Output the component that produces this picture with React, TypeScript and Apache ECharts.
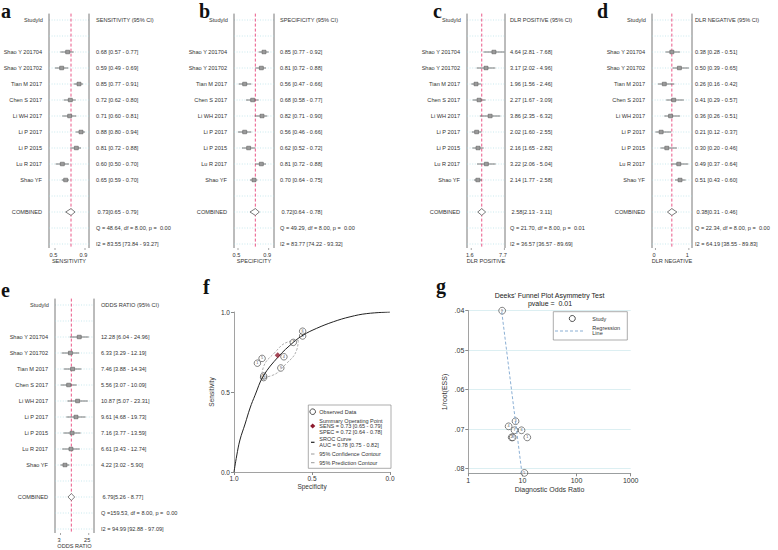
import { useEffect, useRef } from "react";
import * as echarts from "echarts";

const studies = ["Shao Y 201704", "Shao Y 201702", "Tian M 2017", "Chen S 2017", "Li WH 2017", "Li P 2017", "Li P 2015", "Lu R 2017", "Shao YF"];
const studyNumbers = ["1", "2", "3", "4", "5", "6", "7", "8", "9"];

// a: sensitivity
const sensEst = [0.68, 0.59, 0.85, 0.72, 0.71, 0.88, 0.81, 0.60, 0.65];
const sensLo = [0.57, 0.49, 0.77, 0.62, 0.60, 0.80, 0.72, 0.50, 0.59];
const sensHi = [0.77, 0.69, 0.91, 0.80, 0.81, 0.94, 0.88, 0.70, 0.70];
const sensPooled = [0.73, 0.65, 0.79];
const sensStats = ["Q = 48.64, df = 8.00, p =  0.00", "I2 = 83.55 [73.84 - 93.27]"];

// b: specificity
const specEst = [0.85, 0.81, 0.56, 0.68, 0.82, 0.56, 0.62, 0.81, 0.70];
const specLo = [0.77, 0.72, 0.47, 0.58, 0.71, 0.46, 0.52, 0.72, 0.64];
const specHi = [0.92, 0.88, 0.66, 0.77, 0.90, 0.66, 0.72, 0.88, 0.75];
const specPooled = [0.72, 0.64, 0.78];
const specStats = ["Q = 49.29, df = 8.00, p =  0.00", "I2 = 83.77 [74.22 - 93.32]"];

// c: DLR positive
const dlrPosEst = [4.64, 3.17, 1.96, 2.27, 3.86, 2.02, 2.16, 3.22, 2.14];
const dlrPosLo = [2.81, 2.02, 1.56, 1.67, 2.35, 1.60, 1.65, 2.06, 1.77];
const dlrPosHi = [7.68, 4.96, 2.46, 3.09, 6.32, 2.55, 2.82, 5.04, 2.58];
const dlrPosPooled = [2.58, 2.13, 3.11];
const dlrPosStats = ["Q = 21.70, df = 8.00, p =  0.01", "I2 = 36.57 [36.57 - 89.69]"];

// d: DLR negative
const dlrNegEst = [0.38, 0.50, 0.26, 0.41, 0.36, 0.21, 0.30, 0.49, 0.51];
const dlrNegLo = [0.28, 0.39, 0.16, 0.29, 0.26, 0.12, 0.20, 0.37, 0.43];
const dlrNegHi = [0.51, 0.65, 0.42, 0.57, 0.51, 0.37, 0.46, 0.64, 0.60];
const dlrNegPooled = [0.38, 0.31, 0.46];
const dlrNegStats = ["Q = 22.34, df = 8.00, p =  0.00", "I2 = 64.19 [38.55 - 89.83]"];

// e: diagnostic odds ratio
const orEst = [12.28, 6.33, 7.46, 5.56, 10.87, 9.61, 7.16, 6.61, 4.22];
const orLo = [6.04, 3.29, 3.88, 3.07, 5.07, 4.68, 3.77, 3.43, 3.02];
const orHi = [24.96, 12.19, 14.34, 10.09, 23.31, 19.73, 13.59, 12.74, 5.90];
const orPooled = [6.79, 5.26, 8.77];
const orStats = ["Q =159.53, df = 8.00, p =  0.00", "I2 = 94.99 [92.88 - 97.09]"];

// f: SROC
const srocSpec = [1.0, 0.983, 0.962, 0.929, 0.897, 0.865, 0.812, 0.716, 0.62, 0.556, 0.47, 0.363, 0.256, 0.149, 0.0];
const srocSens = [0.0, 0.10, 0.20, 0.30, 0.40, 0.48, 0.60, 0.72, 0.81, 0.856, 0.898, 0.939, 0.97, 0.99, 1.0];
const contourSpec = [0.588, 0.597, 0.669, 0.762, 0.822, 0.813, 0.742, 0.649, 0.588];
const contourSens = [0.824, 0.766, 0.673, 0.601, 0.592, 0.651, 0.743, 0.815, 0.824];
const summarySpec = 0.72;
const summarySens = 0.73;
const srocYTicks = ["0.0", "0.5", "1.0"];

// g: Deeks' funnel plot
const deeksInvRootEss = [0.0721, 0.0721, 0.068, 0.0693, 0.0811, 0.0703, 0.0703, 0.0721, 0.04];
const regLineDor = [4.15, 9.8];
const regLineInvRootEss = [0.0403, 0.0812];

const SANS = '"Liberation Sans", Arial, Helvetica, sans-serif';
const SERIF = '"Liberation Serif", "Times New Roman", serif';
const ROWS = Array.from({ length: 15 }, (_, i) => i);

type Panel = {
  left: number; top: number; width: number;
  xType: string; xMin: number; xMax: number; textX: number;
  header: string; axisName: string; digits: number;
  est: number[]; lo: number[]; hi: number[]; pooled: number[]; stats: string[];
};

const panels: Panel[] = [
  { left: 49, top: 13.6, width: 40, xType: "value", xMin: 0.4, xMax: 1.0, textX: 96, header: "SENSITIVITY (95% CI)", axisName: "SENSITIVITY", digits: 1, est: sensEst, lo: sensLo, hi: sensHi, pooled: sensPooled, stats: sensStats },
  { left: 234, top: 13.6, width: 40, xType: "value", xMin: 0.4, xMax: 1.0, textX: 280, header: "SPECIFICITY (95% CI)", axisName: "SPECIFICITY", digits: 1, est: specEst, lo: specLo, hi: specHi, pooled: specPooled, stats: specStats },
  { left: 467, top: 13.6, width: 38, xType: "log", xMin: 1.27, xMax: 7.9, textX: 510, header: "DLR POSITIVE (95% CI)", axisName: "DLR POSITIVE", digits: 1, est: dlrPosEst, lo: dlrPosLo, hi: dlrPosHi, pooled: dlrPosPooled, stats: dlrPosStats },
  { left: 652, top: 13.6, width: 40, xType: "value", xMin: 0.065, xMax: 0.7, textX: 695, header: "DLR NEGATIVE (95% CI)", axisName: "DLR NEGATIVE", digits: 0, est: dlrNegEst, lo: dlrNegLo, hi: dlrNegHi, pooled: dlrNegPooled, stats: dlrNegStats },
  { left: 55, top: 298.6, width: 39, xType: "log", xMin: 2.0, xMax: 37, textX: 101, header: "ODDS RATIO (95% CI)", axisName: "ODDS RATIO", digits: 0, est: orEst, lo: orLo, hi: orHi, pooled: orPooled, stats: orStats },
];

const FONT_F = `5.6px ${SANS}`;

function txt(text: string, x: number, y: number, align: string, font = FONT_F, fill = "#333") {
  return {
    type: "text",
    style: { text, x, y, font, fill, textAlign: align, align, textVerticalAlign: "middle", verticalAlign: "middle" },
  };
}

const f2 = (v: number) => v.toFixed(2);

function makeForestRender(p: Panel) {
  return (params: any, api: any) => {
    const row = params.dataIndex;
    const cs = params.coordSys;
    const left = cs.x, right = cs.x + cs.width, top = cs.y, bottom = cs.y + cs.height;
    const y = api.coord([p.pooled[0], row])[1];
    const ch: any[] = [];
    ch.push({ type: "line", shape: { x1: left, y1: y, x2: right, y2: y }, style: { stroke: "#a6dae2", lineWidth: 0.6, lineDash: [1, 1.6] } });
    if (row === 0) {
      ch.push({ type: "line", shape: { x1: left, y1: top, x2: left, y2: bottom }, style: { stroke: "#6a6a6a", lineWidth: 0.9 } });
      ch.push({ type: "line", shape: { x1: right, y1: top, x2: right, y2: bottom }, style: { stroke: "#6a6a6a", lineWidth: 0.9 } });
      const xr = api.coord([p.pooled[0], row])[0];
      ch.push({ type: "line", z2: 5, shape: { x1: xr, y1: top, x2: xr, y2: bottom }, style: { stroke: "#e8457a", lineWidth: 0.9, lineDash: [3, 2] } });
      ch.push(txt("StudyId", left - 6, y, "right"));
      ch.push(txt(p.header, p.textX, y, "left"));
      const tv = [Math.min(...p.lo), Math.max(...p.hi)];
      tv.forEach((v) => {
        const x = api.coord([v, row])[0];
        ch.push({ type: "line", shape: { x1: x, y1: bottom, x2: x, y2: bottom + 2 }, style: { stroke: "#6a6a6a", lineWidth: 0.6 } });
        const label = p.digits === 0 ? String(Math.round(v)) : v.toFixed(p.digits);
        ch.push(txt(label, x - 1.5, bottom + 7, "center"));
      });
      ch.push(txt(p.axisName, (left + right) / 2, bottom + 13, "center"));
    }
    const si = row - 2;
    if (si >= 0 && si < studies.length) {
      const xl = api.coord([p.lo[si], row])[0];
      const xh = api.coord([p.hi[si], row])[0];
      const xe = api.coord([p.est[si], row])[0];
      ch.push({ type: "line", z2: 6, shape: { x1: xl, y1: y, x2: xh, y2: y }, style: { stroke: "#555", lineWidth: 0.8 } });
      ch.push({ type: "rect", z2: 7, shape: { x: xe - 2, y: y - 1.8, width: 4, height: 3.6 }, style: { fill: "#9a9a9a", stroke: "#555", lineWidth: 0.5 } });
      ch.push(txt(studies[si], left - 7, y, "right"));
      ch.push(txt(`${f2(p.est[si])} [${f2(p.lo[si])} - ${f2(p.hi[si])}]`, p.textX, y, "left"));
    }
    if (row === 12) {
      const xl = api.coord([p.pooled[1], row])[0];
      const xh = api.coord([p.pooled[2], row])[0];
      const xe = api.coord([p.pooled[0], row])[0];
      ch.push({ type: "polygon", z2: 7, shape: { points: [[xl, y], [xe, y - 3.4], [xh, y], [xe, y + 3.4]] }, style: { fill: "#fff", stroke: "#444", lineWidth: 0.7 } });
      ch.push(txt("COMBINED", left - 7, y, "right"));
      ch.push(txt(`${f2(p.pooled[0])}[${f2(p.pooled[1])} - ${f2(p.pooled[2])}]`, p.textX + 1.5, y, "left"));
    }
    if (row === 13) ch.push(txt(p.stats[0], p.textX, y, "left"));
    if (row === 14) ch.push(txt(p.stats[1], p.textX, y, "left"));
    return { type: "group", children: ch };
  };
}

function letter(ch: string, x: number, cy: number) {
  return {
    type: "text", x, y: cy,
    style: { text: ch, font: `bold 20px ${SERIF}`, fill: "#111", textAlign: "left", align: "left", textVerticalAlign: "middle", verticalAlign: "middle" },
  };
}

function gtext(text: string, x: number, y: number, size: number, align = "left", fill = "#333") {
  return {
    type: "text", x, y,
    style: { text, font: `${size}px ${SANS}`, fill, textAlign: align, align, textVerticalAlign: "middle", verticalAlign: "middle" },
  };
}

function buildOption() {
  const grid: any[] = [];
  const xAxis: any[] = [];
  const yAxis: any[] = [];
  const series: any[] = [];

  panels.forEach((p, i) => {
    grid.push({ left: p.left, top: p.top, width: p.width, height: 234.4 });
    xAxis.push({ gridIndex: i, type: p.xType, min: p.xMin, max: p.xMax, show: false, ...(p.xType === "log" ? { logBase: 10 } : {}) });
    yAxis.push({ gridIndex: i, type: "value", min: -0.4, max: 14.25, inverse: true, show: false });
    series.push({
      type: "custom", xAxisIndex: i, yAxisIndex: i, clip: false, silent: true,
      renderItem: makeForestRender(p),
      data: ROWS.map((r) => [p.pooled[0], r]),
      encode: { x: 0, y: 1 },
    });
  });

  // f: SROC
  grid.push({ left: 234, top: 312, width: 156, height: 160 });
  xAxis.push({
    gridIndex: 5, type: "value", min: 0, max: 1, interval: 0.5, inverse: true,
    axisLine: { onZero: false, lineStyle: { color: "#8a8a8a", width: 0.8 } },
    axisTick: { length: 3, lineStyle: { color: "#8a8a8a" } },
    axisLabel: { fontSize: 6.5, color: "#333", fontFamily: SANS, margin: 3, formatter: (v: number) => v.toFixed(1) },
    splitLine: { show: false },
    name: "Specificity", nameLocation: "middle", nameGap: 11,
    nameTextStyle: { fontSize: 6.5, color: "#333", fontFamily: SANS },
  });
  yAxis.push({
    gridIndex: 5, type: "value", min: 0, max: 1, interval: 0.5,
    axisLine: { show: true, onZero: false, lineStyle: { color: "#8a8a8a", width: 0.8 } },
    axisTick: { show: true, length: 3, lineStyle: { color: "#8a8a8a" } },
    axisLabel: { fontSize: 6.5, color: "#333", fontFamily: SANS, margin: 4, formatter: (v: number) => srocYTicks[Math.round(v * 2)] },
    splitLine: { show: false },
    name: "Sensitivity", nameLocation: "middle", nameGap: 19,
    nameTextStyle: { fontSize: 6.5, color: "#333", fontFamily: SANS },
  });
  series.push({
    type: "line", xAxisIndex: 5, yAxisIndex: 5, smooth: 0.4, symbol: "none", silent: true,
    lineStyle: { color: "#222", width: 1 },
    data: srocSpec.map((s, i) => [s, srocSens[i]]),
  });
  series.push({
    type: "line", xAxisIndex: 5, yAxisIndex: 5, smooth: 0.5, symbol: "none", silent: true,
    lineStyle: { color: "#9a9a9a", width: 0.8, type: [2.5, 1.5] },
    data: contourSpec.map((s, i) => [s, contourSens[i]]),
  });
  series.push({
    type: "scatter", xAxisIndex: 5, yAxisIndex: 5, symbol: "circle", symbolSize: 6.5, silent: true,
    itemStyle: { color: "rgba(255,255,255,0.55)", borderColor: "#222", borderWidth: 0.7 },
    label: { show: true, position: "inside", fontSize: 3.8, color: "#222", fontFamily: SANS, formatter: (q: any) => q.data[2] },
    data: specEst.map((s, i) => [s, sensEst[i], studyNumbers[i]]),
  });
  series.push({
    type: "scatter", xAxisIndex: 5, yAxisIndex: 5, symbol: "diamond", symbolSize: 6, silent: true, z: 5,
    itemStyle: { color: "#8e1b2e" },
    data: [[summarySpec, summarySens]],
  });

  // g: Deeks
  grid.push({ left: 468.3, top: 310.7, width: 162.4, height: 162.6 });
  xAxis.push({
    gridIndex: 6, type: "log", logBase: 10, min: 1, max: 1000,
    axisLine: { onZero: false, lineStyle: { color: "#8a8a8a", width: 0.8 } },
    axisTick: { length: 3, lineStyle: { color: "#8a8a8a" } },
    axisLabel: { fontSize: 7, color: "#333", fontFamily: SANS, margin: 4, formatter: (v: number) => String(Math.round(v)) },
    splitLine: { show: false }, minorTick: { show: false },
    name: "Diagnostic Odds Ratio", nameLocation: "middle", nameGap: 13,
    nameTextStyle: { fontSize: 7, color: "#333", fontFamily: SANS },
  });
  yAxis.push({
    gridIndex: 6, type: "value", min: 0.04, max: 0.0812, interval: 0.01, inverse: true,
    axisLine: { show: true, onZero: false, lineStyle: { color: "#8a8a8a", width: 0.8 } },
    axisTick: { show: true, length: 3, lineStyle: { color: "#8a8a8a" } },
    axisLabel: { fontSize: 7, color: "#333", fontFamily: SANS, margin: 4, showMaxLabel: false, formatter: (v: number) => v.toFixed(2).replace(/^0/, "") },
    splitLine: { show: true, lineStyle: { color: "#d3ebef", width: 0.8 } },
    name: "1/root(ESS)", nameLocation: "middle", nameGap: 20,
    nameTextStyle: { fontSize: 7, color: "#333", fontFamily: SANS },
  });
  series.push({
    type: "line", xAxisIndex: 6, yAxisIndex: 6, symbol: "none", silent: true,
    lineStyle: { color: "#7ea6cf", width: 0.9, type: [3, 2] },
    data: regLineDor.map((d, i) => [d, regLineInvRootEss[i]]),
  });
  series.push({
    type: "scatter", xAxisIndex: 6, yAxisIndex: 6, symbol: "circle", symbolSize: 6.8, silent: true,
    itemStyle: { color: "rgba(255,255,255,0.55)", borderColor: "#222", borderWidth: 0.7 },
    label: { show: true, position: "inside", fontSize: 3.8, color: "#222", fontFamily: SANS, formatter: (q: any) => q.data[2] },
    data: orEst.map((d, i) => [d, deeksInvRootEss[i], studyNumbers[i]]),
  });

  const graphic: any[] = [
    letter("a", 1, 10.8), letter("b", 199, 10.8), letter("c", 433, 10.8), letter("d", 597, 10.8),
    letter("e", 1, 289.5), letter("f", 203, 286.5), letter("g", 436, 285.5),
    // f legend
    { type: "rect", shape: { x: 308.3, y: 405, width: 82.7, height: 63.3 }, style: { fill: "#fff", stroke: "#8a8a8a", lineWidth: 0.7 }, z: 10 },
    { type: "circle", shape: { cx: 312.7, cy: 411.7, r: 2.8 }, style: { fill: "#fff", stroke: "#222", lineWidth: 0.8 }, z: 11 },
    { ...gtext("Observed Data", 319.3, 411.7, 5.5), z: 11 },
    { type: "polygon", shape: { points: [[312.7, 423.4], [315.3, 426], [312.7, 428.6], [310.1, 426]] }, style: { fill: "#8e1b2e" }, z: 11 },
    { ...gtext("Summary Operating Point", 319.3, 420.5, 5.5), z: 11 },
    { ...gtext("SENS = 0.73 [0.65 - 0.79]", 319.3, 426, 5.5), z: 11 },
    { ...gtext("SPEC = 0.72 [0.64 - 0.78]", 319.3, 431.5, 5.5), z: 11 },
    { type: "line", shape: { x1: 311, y1: 442.3, x2: 314.5, y2: 442.3 }, style: { stroke: "#222", lineWidth: 1.2 }, z: 11 },
    { ...gtext("SROC Curve", 319.3, 439.3, 5.5), z: 11 },
    { ...gtext("AUC = 0.78 [0.75 - 0.82]", 319.3, 445.2, 5.5), z: 11 },
    { type: "line", shape: { x1: 311, y1: 454, x2: 314.5, y2: 454 }, style: { stroke: "#9a9a9a", lineWidth: 1 }, z: 11 },
    { ...gtext("95% Confidence Contour", 319.3, 454, 5.5), z: 11 },
    { type: "line", shape: { x1: 311, y1: 462.7, x2: 314.5, y2: 462.7 }, style: { stroke: "#9a9a9a", lineWidth: 1 }, z: 11 },
    { ...gtext("95% Prediction Contour", 319.3, 462.7, 5.5), z: 11 },
    // g title & legend
    gtext("Deeks' Funnel Plot Asymmetry Test", 549.5, 295.5, 7, "center", "#222"),
    gtext("pvalue =  0.01", 550, 303.5, 7, "center", "#222"),
    { type: "rect", shape: { x: 553.3, y: 311.7, width: 74, height: 28.3 }, style: { fill: "#fff", stroke: "#8a8a8a", lineWidth: 0.7 }, z: 10 },
    { type: "circle", shape: { cx: 572.3, cy: 318.5, r: 3 }, style: { fill: "#fff", stroke: "#222", lineWidth: 0.8 }, z: 11 },
    { ...gtext("Study", 592.3, 318.5, 5.5), z: 11 },
    { type: "line", shape: { x1: 555, y1: 331, x2: 583, y2: 331 }, style: { stroke: "#7ea6cf", lineWidth: 0.9, lineDash: [3, 2] }, z: 11 },
    { ...gtext("Regression", 592.3, 327.5, 5.5), z: 11 },
    { ...gtext("Line", 592.3, 333.3, 5.5), z: 11 },
  ];

  return { animation: false, backgroundColor: "#fff", grid, xAxis, yAxis, series, graphic };
}

export default function App() {
  const ref = useRef<HTMLDivElement>(null);
  useEffect(() => {
    document.body.style.margin = "0";
    const chart = echarts.init(ref.current as HTMLDivElement, null, { renderer: "svg" });
    chart.setOption(buildOption() as any);
    return () => chart.dispose();
  }, []);
  return <div ref={ref} style={{ width: 778, height: 550 }} />;
}
